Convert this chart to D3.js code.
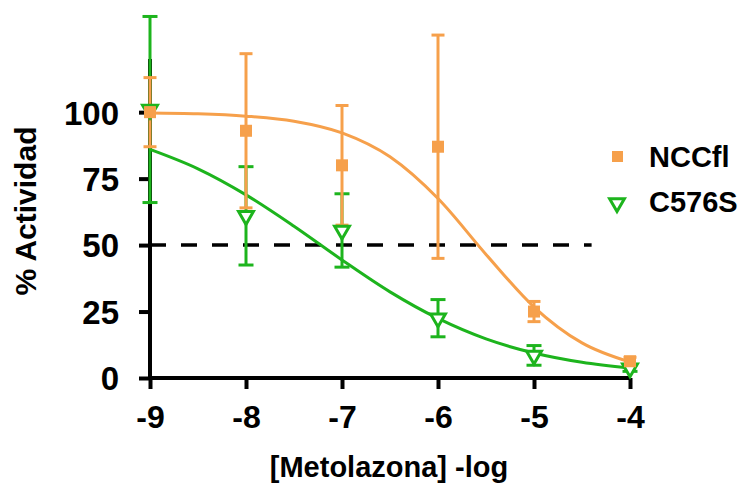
<!DOCTYPE html>
<html>
<head>
<meta charset="utf-8">
<script src="https://cdn.jsdelivr.net/npm/d3@7"></script>
<style>
  body { margin: 0; background: #fff; }
  text { font-family: Arial, "Liberation Sans", sans-serif; font-weight: bold; }
</style>
</head>
<body>
<svg width="742" height="483"></svg>
<script>
// --- data ---
let doses = [-9, -8, -7, -6, -5, -4];
let nccMean = [100, 93, 80, 87, 25, 6.3];
let nccErr = [13, 29, 22.5, 42, 3.8, 1.5];
let c576Mean = [101, 61, 55.5, 22.5, 8.5, 3.7];
let c576Err = [35, 18.5, 13.8, 7, 3.7, 1.2];

// fitted curves
let curveX = [-9, -8.5, -8, -7.5, -7, -6.5, -6, -5.5, -5, -4.5, -4];
let nccCurve = [99.7, 99.4, 98.5, 96.6, 92.2, 83.2, 67.5, 46.5, 26.7, 13.2, 6.0];
let c576Curve = [86.0, 78.7, 68.9, 57.1, 44.4, 32.4, 22.4, 14.7, 9.4, 5.9, 3.7];

let yTicks = [0, 25, 50, 75, 100];
let xTicks = [-9, -8, -7, -6, -5, -4];
let refY = 50, refX = [-9, -4.4];

let seriesNames = ["NCCfl", "C576S"];
let orange = "#f6a04b", green = "#1db41d";

let svg = d3.select("svg");

let x = d3.scaleLinear().domain([-9, -4]).range([150, 630]);
let y = d3.scaleLinear().domain([0, 120]).range([378, 59]);

// --- axes ---
let yAxis = svg.append("g")
    .attr("transform", "translate(150,0)")
    .call(d3.axisLeft(y).tickValues(yTicks).tickSize(11).tickPadding(20));
let xAxis = svg.append("g")
    .attr("transform", "translate(0,378)")
    .call(d3.axisBottom(x).tickValues(xTicks).tickSize(11).tickPadding(16)
        .tickFormat(d => d < 0 ? "-" + Math.abs(d) : d));

[yAxis, xAxis].forEach(g => {
    g.select(".domain").attr("stroke", "#000").attr("stroke-width", 4);
    g.selectAll(".tick line").attr("stroke", "#000").attr("stroke-width", 4);
    g.selectAll(".tick text").attr("fill", "#000");
});
yAxis.selectAll(".tick text").style("font-size", "33px").attr("dy", "0.36em");
xAxis.selectAll(".tick text").style("font-size", "32px").attr("dy", "0.71em");
yAxis.select(".domain").attr("d", "M0," + y(0) + "V" + y(120));
xAxis.select(".domain").attr("d", "M" + x(-9) + ",0H" + x(-4));

// --- reference line ---
svg.append("line")
    .attr("x1", x(refX[0])).attr("x2", x(refX[1]))
    .attr("y1", y(refY)).attr("y2", y(refY))
    .attr("stroke", "#000").attr("stroke-width", 3.5)
    .attr("stroke-dasharray", "16,15");

// --- curves ---
let line = d3.line().x(d => x(d[0])).y(d => y(d[1])).curve(d3.curveMonotoneX);
svg.append("path")
    .datum(d3.zip(curveX, c576Curve))
    .attr("d", line).attr("fill", "none")
    .attr("stroke", green).attr("stroke-width", 3);
svg.append("path")
    .datum(d3.zip(curveX, nccCurve))
    .attr("d", line).attr("fill", "none")
    .attr("stroke", orange).attr("stroke-width", 3);

// --- error bars ---
function errorBars(means, errs, color, cap, sw) {
    let g = svg.append("g").attr("stroke", color).attr("stroke-width", sw);
    doses.forEach((d, i) => {
        let top = y(means[i] + errs[i]), bot = y(means[i] - errs[i]);
        g.append("line").attr("x1", x(d)).attr("x2", x(d)).attr("y1", top).attr("y2", bot);
        g.append("line").attr("x1", x(d) - cap).attr("x2", x(d) + cap).attr("y1", top).attr("y2", top);
        g.append("line").attr("x1", x(d) - cap).attr("x2", x(d) + cap).attr("y1", bot).attr("y2", bot);
    });
}
errorBars(c576Mean, c576Err, green, 7.5, 3);
errorBars(nccMean, nccErr, orange, 6.5, 3);

// --- markers ---
let tri = d3.symbol().type(d3.symbolTriangle).size(95);
svg.selectAll(".tri")
    .data(d3.zip(doses, c576Mean))
    .enter().append("path")
    .attr("d", tri)
    .attr("transform", d => "translate(" + x(d[0]) + "," + y(d[1]) + ") rotate(180)")
    .attr("fill", "#fff").attr("stroke", green).attr("stroke-width", 3);

svg.selectAll(".sq")
    .data(d3.zip(doses, nccMean))
    .enter().append("rect")
    .attr("x", d => x(d[0]) - 6).attr("y", d => y(d[1]) - 6)
    .attr("width", 12).attr("height", 12)
    .attr("fill", orange);

// --- axis titles ---
svg.append("text")
    .attr("x", 389).attr("y", 477)
    .attr("text-anchor", "middle")
    .style("font-size", "29px")
    .text("[Metolazona] -log");
svg.append("text")
    .attr("transform", "translate(36,211) rotate(-90)")
    .attr("text-anchor", "middle")
    .style("font-size", "30px")
    .text("% Actividad");

// --- legend ---
let legend = svg.append("g");
legend.append("rect").attr("x", 612).attr("y", 151).attr("width", 11).attr("height", 11).attr("fill", orange);
legend.append("path").attr("d", tri)
    .attr("transform", "translate(617,203) rotate(180)")
    .attr("fill", "#fff").attr("stroke", green).attr("stroke-width", 3);
legend.selectAll("text.lg")
    .data(seriesNames)
    .enter().append("text")
    .attr("x", 649).attr("y", (d, i) => 167 + i * 45)
    .style("font-size", "29px")
    .text(d => d);
</script>
</body>
</html>
